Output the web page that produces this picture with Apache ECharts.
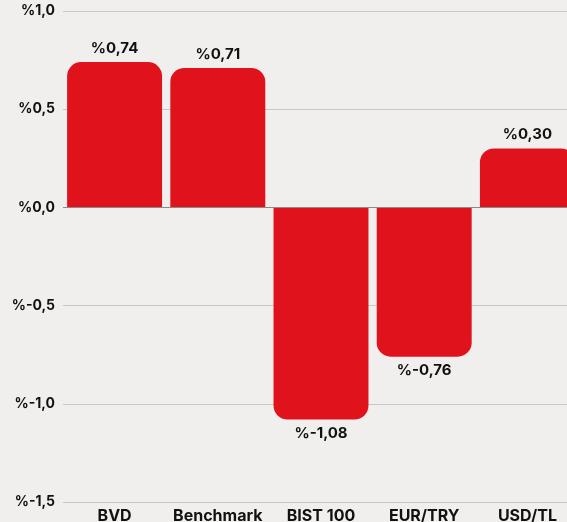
<!DOCTYPE html>
<html>
<head>
<meta charset="utf-8">
<script src="https://cdn.jsdelivr.net/npm/echarts@6/dist/echarts.min.js"></script>
<style>
  html, body { margin: 0; padding: 0; background: #f0efed; }
  #chart { width: 567px; height: 522px; }
</style>
</head>
<body>
<div id="chart"></div>
<script>
const categories = ['BVD', 'Benchmark', 'BIST 100', 'EUR/TRY', 'USD/TL']
const values = [0.74, 0.71, -1.08, -0.76, 0.30]
const tickMin = -1.5
const tickMax = 1.0
const tickStep = 0.5

const fmt = (v, d) => '%' + v.toFixed(d).replace('.', ',')

const chart = echarts.init(document.getElementById('chart'))
chart.setOption({
    backgroundColor: '#f0efed',
    animation: false,
    textStyle: { fontFamily: 'Inter' },
    grid: { left: 63, width: 516, top: 11, bottom: 20, outerBoundsMode: 'none', containLabel: false },
    xAxis: {
        type: 'category',
        data: categories,
        axisLine: { show: false },
        axisTick: { show: false },
        axisLabel: { color: '#111', fontWeight: 'bold', fontSize: 16, margin: 6, interval: 0 }
    },
    yAxis: {
        type: 'value',
        min: tickMin,
        max: tickMax,
        interval: tickStep,
        axisLabel: {
            color: '#111', fontWeight: 'bold', fontSize: 14, margin: 8,
            formatter: v => fmt(v, 1)
        },
        splitLine: { lineStyle: { color: '#c8c8c8', width: 1 } }
    },
    series: [{
        type: 'bar',
        barCategoryGap: '8%',
        data: values.map(v => ({
            value: v,
            itemStyle: { borderRadius: v >= 0 ? [14, 14, 0, 0] : [0, 0, 14, 14] },
            label: { position: v >= 0 ? 'top' : 'bottom' }
        })),
        itemStyle: { color: '#e0121c' },
        label: {
            show: true, color: '#111', fontWeight: 'bold', fontSize: 15, distance: 6,
            formatter: p => fmt(p.value, 2)
        },
        markLine: {
            silent: true, symbol: 'none', label: { show: false },
            lineStyle: { color: '#8a8a8a', type: 'solid', width: 1 },
            data: [{ yAxis: 0 }]
        }
    }]
})
</script>
</body>
</html>
